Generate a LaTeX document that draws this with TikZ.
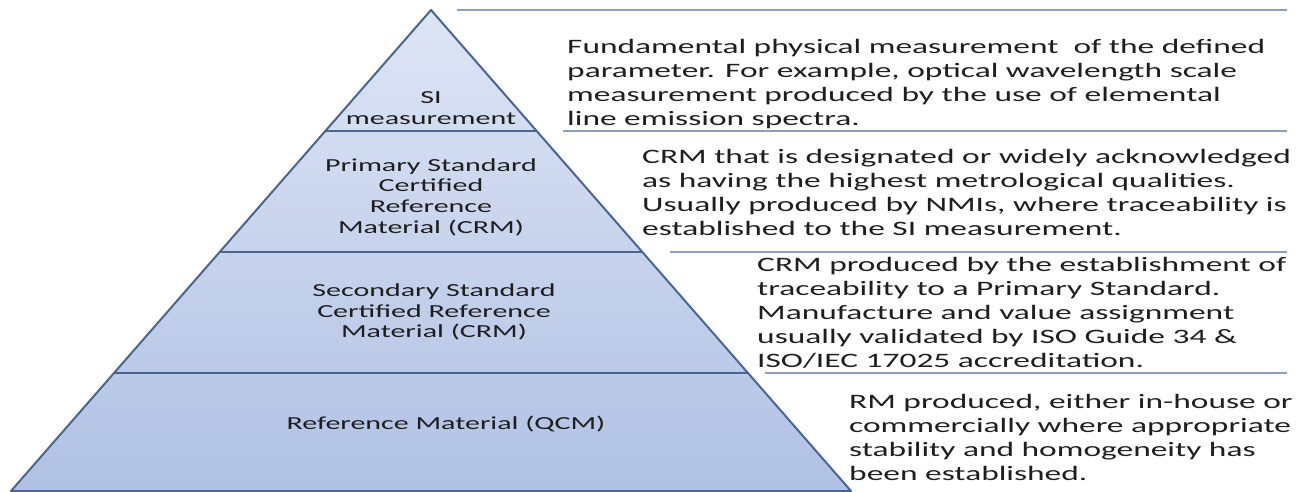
\documentclass[tikz,border=0pt]{standalone}
\usepackage{fontspec}
\setmainfont{Carlito}[FakeStretch=1.63]
\usetikzlibrary{%
  calc,%
  positioning% wg. " of "
}

\definecolor{pyrline}{RGB}{74,101,146}
\definecolor{pyrtop}{RGB}{222,229,245}
\definecolor{pyrbottom}{RGB}{176,193,228}
\definecolor{rulecol}{RGB}{140,160,190}
\definecolor{textcol}{RGB}{30,30,30}

\begin{document}
\begin{tikzpicture}
  [
  x=1pt, y=-1pt, line join=round,
  level/.style={align=center, font=\fontsize{18.4}{20.7}\selectfont, text=textcol, inner sep=0pt},
  note/.style={align=left, anchor=west, font=\fontsize{20.5}{24}\selectfont, text=textcol, inner sep=0pt},
  divider/.style={draw=pyrline, line width=2pt},
  rule/.style={draw=rulecol, line width=1.3pt}
  ]

\useasboundingbox (0,0) rectangle (1297,492);

\coordinate (apex) at (431,10);
\coordinate (bl) at (11,491);
\coordinate (br) at (851,491);

\shade[top color=pyrtop, bottom color=pyrbottom] (apex) -- (br) -- (bl) -- cycle;

\foreach \t/\n in {0.2516/1,0.5031/2,0.7547/3} {
  \coordinate (l\n) at ($(apex)!\t!(bl)$);
  \coordinate (r\n) at ($(apex)!\t!(br)$);
  \draw[divider] (l\n) -- (r\n);
}
\draw[divider] (apex) -- (br) -- (bl) -- cycle;

\foreach \n/\x/\y in {0/457/10,1/563/131,2/670/252,3/765/373} {
  \coordinate (s\n) at (\x,\y);
  \coordinate (e\n) at (1287,\y);
  \draw[rule] (s\n) -- (e\n);
}

\node[level] (level1) at (431,108) {SI\\measurement};
\node[level] (level2) at (431,197) {Primary Standard\\Certified\\Reference\\Material (CRM)};
\node[level] (level3) at (434,312) {Secondary Standard\\Certified Reference\\Material (CRM)};
\node[level] (level4) at (446,424) {Reference Material (QCM)};

\node[note] (note1) at (567,84) {Fundamental physical measurement~ of the defined\\parameter. For example, optical wavelength scale\\measurement produced by the use of elemental\\line emission spectra.};
\node[note] (note2) at (642,192) {CRM that is designated or widely acknowledged\\as having the highest metrological qualities.\\Usually produced by NMIs, where traceability is\\established to the SI measurement.};
\node[note] (note3) at (757,313) {CRM produced by the establishment of\\traceability to a Primary Standard.\\Manufacture and value assignment\\usually validated by ISO Guide 34 \&\\ISO/IEC 17025 accreditation.};
\node[note] (note4) at (849,437) {RM produced, either in-house or\\commercially where appropriate\\stability and homogeneity has\\been established.};

\end{tikzpicture}
\end{document}
